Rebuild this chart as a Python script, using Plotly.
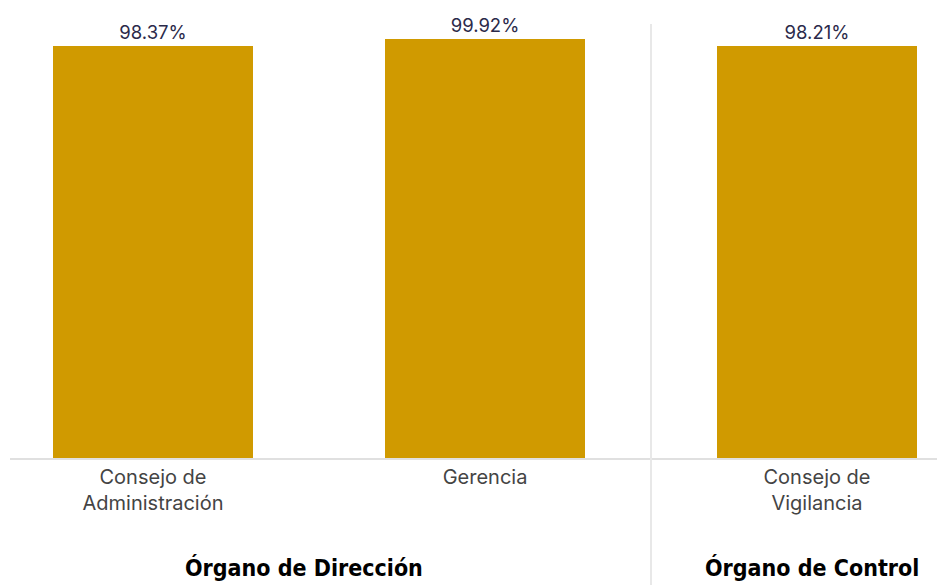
import plotly.graph_objects as go

categories = ["Consejo de<br>Administración", "Gerencia", "Consejo de<br>Vigilancia"]
values = [98.37, 99.92, 98.21]
value_labels = ["98.37%", "99.92%", "98.21%"]
groups = ["Órgano de Dirección", "Órgano de Control"]
group_pos = [0.455, 1.985]

fig = go.Figure()
fig.add_trace(go.Bar(
    x=[0, 1, 2], y=values,
    text=value_labels, textposition="outside",
    textfont=dict(family="Inter, Lato, sans-serif", size=18.5, color="#2b2a4a"),
    marker=dict(color="#D09A00", line=dict(width=0)),
    width=0.6024, cliponaxis=False,
))

fig.add_shape(type="line", xref="x", yref="paper", x0=1.5, x1=1.5, y0=-0.3, y1=1,
              line=dict(color="#e8e8e8", width=2))

for g, p in zip(groups, group_pos):
    fig.add_annotation(x=p, xref="x", y=-0.252, yref="paper", yanchor="middle",
                       text="<b>" + g + "</b>", showarrow=False,
                       font=dict(family="Liberation Sans Narrow, Arial Narrow, DejaVu Sans Condensed, sans-serif",
                                 size=23, color="#000000"))

fig.update_layout(
    width=937, height=577,
    margin=dict(l=2, r=0, t=16, b=127),
    paper_bgcolor="white", plot_bgcolor="white",
    showlegend=False,
    bargap=0,
    xaxis=dict(range=[-0.4307, 2.3855], tickmode="array", tickvals=[0, 1, 2], ticktext=categories,
               showline=True, linecolor="#e0e0e0", linewidth=2, showgrid=False, zeroline=False,
               ticks="", tickfont=dict(family="Inter, Lato, sans-serif", size=20, color="#444444"),
               fixedrange=True),
    yaxis=dict(range=[0, 103.5], visible=False, showgrid=False, zeroline=False, fixedrange=True),
)

fig.write_html("out.html")
